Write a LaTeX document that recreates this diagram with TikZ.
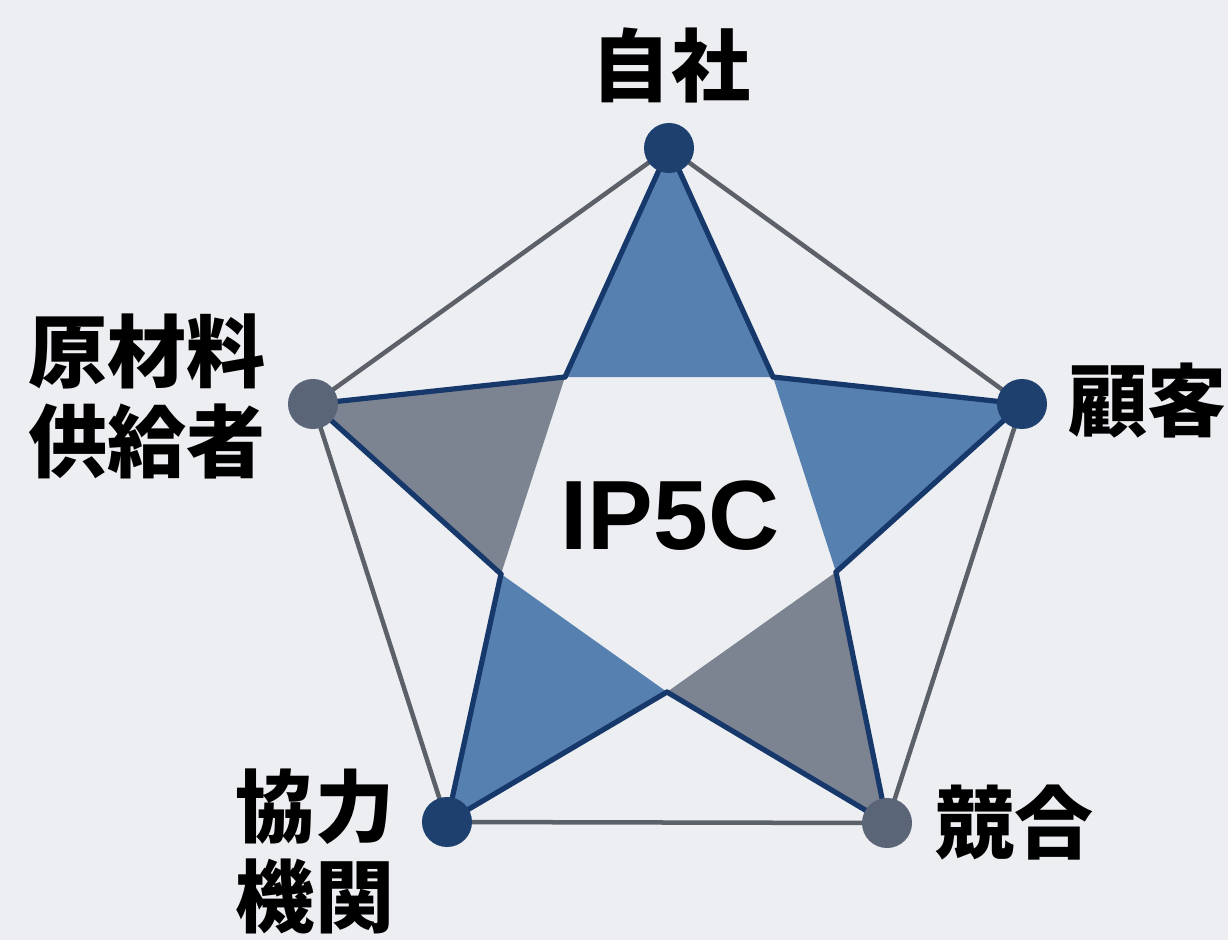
\documentclass[tikz,border=0pt]{standalone}
\usepackage{fontspec}
\newfontfamily\cjk{Noto Sans CJK JP}
\newfontfamily\latinbold{Liberation Sans}
\definecolor{bgcol}{HTML}{ECEEF1}
\definecolor{edgegray}{HTML}{5C6069}
\definecolor{navy}{HTML}{17386A}
\definecolor{starblue}{HTML}{5680AF}
\definecolor{stargray}{HTML}{7C8391}
\definecolor{dotnavy}{HTML}{1E406F}
\definecolor{dotslate}{HTML}{5B6578}
\begin{document}
\begin{tikzpicture}[x=0.01cm,y=-0.01cm,
  outer/.style={draw=edgegray, line width=0.045cm},
  starline/.style={draw=navy, line width=0.052cm, line join=round, line cap=round},
  bluetri/.style={fill=starblue},
  graytri/.style={fill=stargray},
  dotdark/.style={circle, fill=dotnavy, minimum size=0.5cm, inner sep=0pt},
  dotgray/.style={circle, fill=dotslate, minimum size=0.5cm, inner sep=0pt},
  lbl/.style={font=\cjk\bfseries\fontsize{22.5}{25.6}\selectfont, align=left, inner sep=0pt},
  title/.style={font=\latinbold\bfseries\fontsize{28}{32}\selectfont, inner sep=0pt}]
\fill[bgcol] (0,0) rectangle (1228,940);
\useasboundingbox (0,0) rectangle (1228,940);
% outer vertices
\coordinate (T) at (669,148);
\coordinate (R) at (1022,404);
\coordinate (BR) at (887,823);
\coordinate (BL) at (447,822);
\coordinate (L) at (313,404);
% inner vertices
\coordinate (iTL) at (565,377);
\coordinate (iTR) at (773,377);
\coordinate (iRL) at (836,572);
\coordinate (iB) at (667,692);
\coordinate (iLL) at (501,574);
% outer pentagon
\draw[outer] (T) -- (R) -- (BR) -- (BL) -- (L) -- cycle;
% star points
\fill[bluetri] (T) -- (iTL) -- (iTR) -- cycle;
\fill[bluetri] (R) -- (iTR) -- (iRL) -- cycle;
\fill[graytri] (BR) -- (iRL) -- (iB) -- cycle;
\fill[bluetri] (BL) -- (iB) -- (iLL) -- cycle;
\fill[graytri] (L) -- (iLL) -- (iTL) -- cycle;
\draw[starline] (iTL) -- (T) -- (iTR);
\draw[starline] (iTR) -- (R) -- (iRL);
\draw[starline] (iRL) -- (BR) -- (iB);
\draw[starline] (iB) -- (BL) -- (iLL);
\draw[starline] (iLL) -- (L) -- (iTL);
% dots
\node[dotdark] (dT) at (T) {};
\node[dotdark] (dR) at (R) {};
\node[dotgray] (dBR) at (BR) {};
\node[dotdark] (dBL) at (BL) {};
\node[dotgray] (dL) at (L) {};
% labels
\node[lbl] (lT) at (671,65) {自社};
\node[lbl, anchor=west] (lR) at (1068,401) {顧客};
\node[lbl, anchor=west] (lBR) at (935,823) {競合};
\node[lbl] (lBL) at (315,851) {協力\\機関};
\node[lbl] (lL) at (147,396) {原材料\\供給者};
\node[title] (center) at (670,516) {IP5C};
\end{tikzpicture}
\end{document}
